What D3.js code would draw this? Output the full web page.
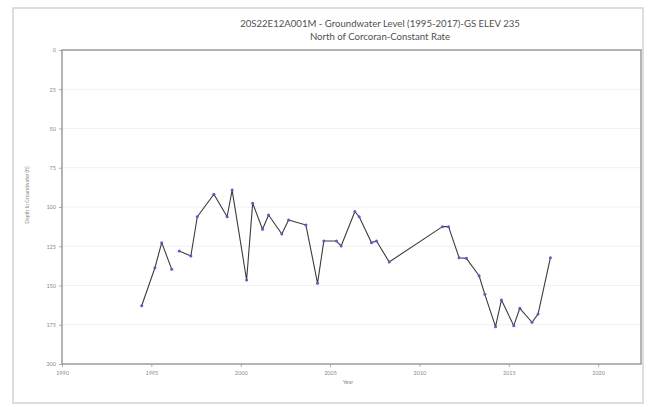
<!DOCTYPE html>
<html>
<head>
<meta charset="utf-8">
<script src="https://cdn.jsdelivr.net/npm/d3@7/dist/d3.min.js"></script>
<style>
  html, body { margin: 0; padding: 0; background: #fff; }
  svg { display: block; font-family: "Lato", "Open Sans", sans-serif; }
</style>
</head>
<body>
<svg id="chart" width="654" height="407"></svg>
<script>
// Measurement dates (decimal years); null marks a break in the record
const years = [
  1994.46, 1995.20, 1995.58, 1996.14, null,
  1996.56, 1997.21, 1997.57, 1998.50, 1999.24, 1999.52, 2000.33, 2000.67,
  2001.22, 2001.56, 2002.30, 2002.68, 2003.65, 2004.30, 2004.65, 2005.36,
  2005.62, 2006.39, 2006.63, 2007.32, 2007.60, 2008.31, 2011.29, 2011.63,
  2012.22, 2012.63, 2013.34, 2013.66, 2014.26, 2014.59, 2015.28, 2015.62,
  2016.30, 2016.64, 2017.33
];
// Depth to groundwater below ground surface (ft)
const depths = [
  162.9, 138.7, 122.7, 139.7, null,
  128.0, 131.2, 106.2, 91.9, 106.2, 89.2, 146.5, 97.6,
  114.2, 105.1, 117.2, 108.3, 111.5, 148.6, 121.7, 121.7,
  124.8, 102.9, 106.2, 122.7, 121.7, 135.0, 112.5, 112.5,
  132.3, 132.7, 143.8, 155.6, 176.2, 159.2, 175.6, 164.5,
  173.4, 168.2, 132.3
];
const yearTicks = [1990, 1995, 2000, 2005, 2010, 2015, 2020];
const depthTicks = [0, 25, 50, 75, 100, 125, 150, 175, 200];
const titleLines = [
  "20S22E12A001M - Groundwater Level (1995-2017)-GS ELEV 235",
  "North of Corcoran-Constant Rate"
];

const svg = d3.select("#chart");
const plot = { left: 62, right: 641, top: 50, bottom: 364 };

const x = d3.scaleLinear().domain([1990, 2022.4]).range([plot.left, plot.right]);
const y = d3.scaleLinear().domain([0, 200]).range([plot.top, plot.bottom]);

const points = years.map((yr, i) => ({ year: yr, depth: depths[i] }));

// Outer chart frame
svg.append("rect")
  .attr("x", 13).attr("y", 8).attr("width", 630).attr("height", 395)
  .attr("fill", "#fff").attr("stroke", "#d4d4d4").attr("stroke-width", 1.5);

// Title
svg.append("g").selectAll("text").data(titleLines).join("text")
  .attr("x", 380).attr("y", (d, i) => 27 + i * 12.5)
  .attr("text-anchor", "middle")
  .attr("font-size", 9.6)
  .attr("fill", "#505050")
  .text(d => d);

// Faint horizontal gridlines
svg.append("g").selectAll("line").data(depthTicks.slice(1, -1)).join("line")
  .attr("x1", plot.left).attr("x2", plot.right)
  .attr("y1", d => y(d)).attr("y2", d => y(d))
  .attr("stroke", "#f1f1f1").attr("stroke-width", 1);

// Axes
const yAxis = d3.axisLeft(y).tickValues(depthTicks).tickSize(3).tickPadding(3);
const xAxis = d3.axisBottom(x).tickValues(yearTicks).tickFormat(d3.format("d")).tickSize(3).tickPadding(4);

const gy = svg.append("g").attr("transform", `translate(${plot.left},0)`).call(yAxis);
const gx = svg.append("g").attr("transform", `translate(0,${plot.bottom})`).call(xAxis);
[gx, gy].forEach(g => {
  g.select(".domain").remove();
  g.selectAll(".tick line").attr("stroke", "#b0b0b0");
  g.selectAll(".tick text").attr("fill", "#8a8a8a").attr("font-size", 5.5)
    .attr("font-family", "Lato, sans-serif");
});

// Plot area border
svg.append("rect")
  .attr("x", plot.left).attr("y", plot.top)
  .attr("width", plot.right - plot.left).attr("height", plot.bottom - plot.top)
  .attr("fill", "none").attr("stroke", "#8c8c8c").attr("stroke-width", 1.3);

// Axis titles
svg.append("text")
  .attr("transform", `translate(29,${(plot.top + plot.bottom) / 2 - 12}) rotate(-90)`)
  .attr("text-anchor", "middle").attr("font-size", 5)
  .attr("fill", "#8a8a8a")
  .text("Depth to Groundwater (ft)");

svg.append("text")
  .attr("x", 348).attr("y", 384)
  .attr("text-anchor", "middle").attr("font-size", 5.5)
  .attr("fill", "#8a8a8a")
  .text("Year");

// Water level line
const line = d3.line()
  .defined(d => d.year !== null && d.depth !== null)
  .x(d => x(d.year)).y(d => y(d.depth));

svg.append("path").datum(points)
  .attr("d", line)
  .attr("fill", "none").attr("stroke", "#3c3c3c").attr("stroke-width", 1.1)
  .attr("stroke-linejoin", "round");

// Measurement markers
svg.append("g").selectAll("circle")
  .data(points.filter(d => d.year !== null))
  .join("circle")
  .attr("cx", d => x(d.year)).attr("cy", d => y(d.depth))
  .attr("r", 1.5)
  .attr("fill", "#5a5ad0");
</script>
</body>
</html>
